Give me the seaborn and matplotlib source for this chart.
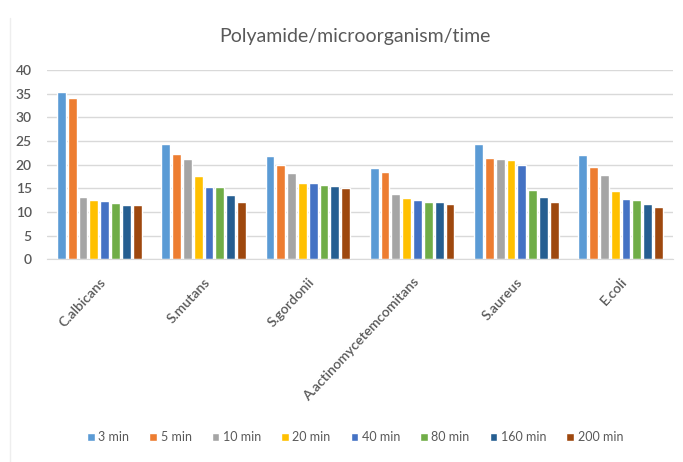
import numpy as np
import matplotlib.pyplot as plt
import pandas as pd
import seaborn as sns

organisms = ["C.albicans", "S.mutans", "S.gordonii",
             "A.actinomycetemcomitans", "S.aureus", "E.coli"]
times = ["3 min", "5 min", "10 min", "20 min",
         "40 min", "80 min", "160 min", "200 min"]

t3 = [35.3, 24.3, 21.8, 19.4, 24.4, 22.0]
t5 = [34.2, 22.3, 19.9, 18.4, 21.5, 19.5]
t10 = [13.1, 21.2, 18.3, 13.9, 21.2, 17.9]
t20 = [12.6, 17.7, 16.2, 13.0, 21.1, 14.5]
t40 = [12.3, 15.2, 16.2, 12.5, 20.0, 12.7]
t80 = [11.8, 15.2, 15.6, 12.2, 14.7, 12.5]
t160 = [11.4, 13.5, 15.4, 12.0, 13.1, 11.7]
t200 = [11.4, 12.0, 15.0, 11.7, 12.1, 11.1]

colors = ["#5B9BD5", "#ED7D31", "#A5A5A5", "#FFC000",
          "#4472C4", "#70AD47", "#255E91", "#9E480E"]

df = pd.DataFrame({"organism": organisms, "3 min": t3, "5 min": t5,
                   "10 min": t10, "20 min": t20, "40 min": t40,
                   "80 min": t80, "160 min": t160, "200 min": t200})
df = df.melt(id_vars="organism", var_name="time", value_name="value")

sns.set_style("white")
plt.rcParams["font.family"] = ["Lato", "DejaVu Sans"]
txt = "#595959"

fig = plt.figure(figsize=(6.83, 4.62), dpi=100)
ax = fig.add_axes([0.069, 0.439, 0.916, 0.409])
sns.barplot(data=df, x="organism", y="value", hue="time",
            hue_order=times, order=organisms,
            palette=dict(zip(times, colors)), width=0.83, gap=0.18,
            saturation=1, ax=ax, legend=True)

ax.set_ylim(0, 40)
ax.set_yticks(np.arange(0, 41, 5))
ax.set_xlim(-0.5, 5.5)
ax.grid(axis="y", color="#D9D9D9", linewidth=1)
ax.set_axisbelow(True)
for s in ["top", "right", "left"]:
    ax.spines[s].set_visible(False)
ax.spines["bottom"].set_color("#D9D9D9")
ax.tick_params(axis="both", length=0, labelsize=10, labelcolor=txt)
ax.tick_params(axis="y", pad=11)
ax.tick_params(axis="x", pad=12)
plt.setp(ax.get_xticklabels(), rotation=47, ha="right",
         rotation_mode="anchor", fontweight="semibold")
plt.setp(ax.get_yticklabels(), fontweight="semibold")
ax.set_xlabel("")
ax.set_ylabel("")
fig.text(0.52, 0.92, "Polyamide/microorganism/time", ha="center",
         va="center", fontsize=14, color=txt)

handles, labels = ax.get_legend_handles_labels()
ax.legend_.remove()
fig.legend(handles, labels, loc="center", bbox_to_anchor=(0.52, 0.054),
           ncol=8, frameon=False, fontsize=9, labelcolor=txt,
           handlelength=0.6, handleheight=0.6, handletextpad=0.3,
           columnspacing=1.6)

fig.add_artist(plt.Line2D([0.014, 0.014], [0.0, 0.96],
                          color="#EEEEEE", linewidth=1))

fig.savefig("out.png", dpi=100)
